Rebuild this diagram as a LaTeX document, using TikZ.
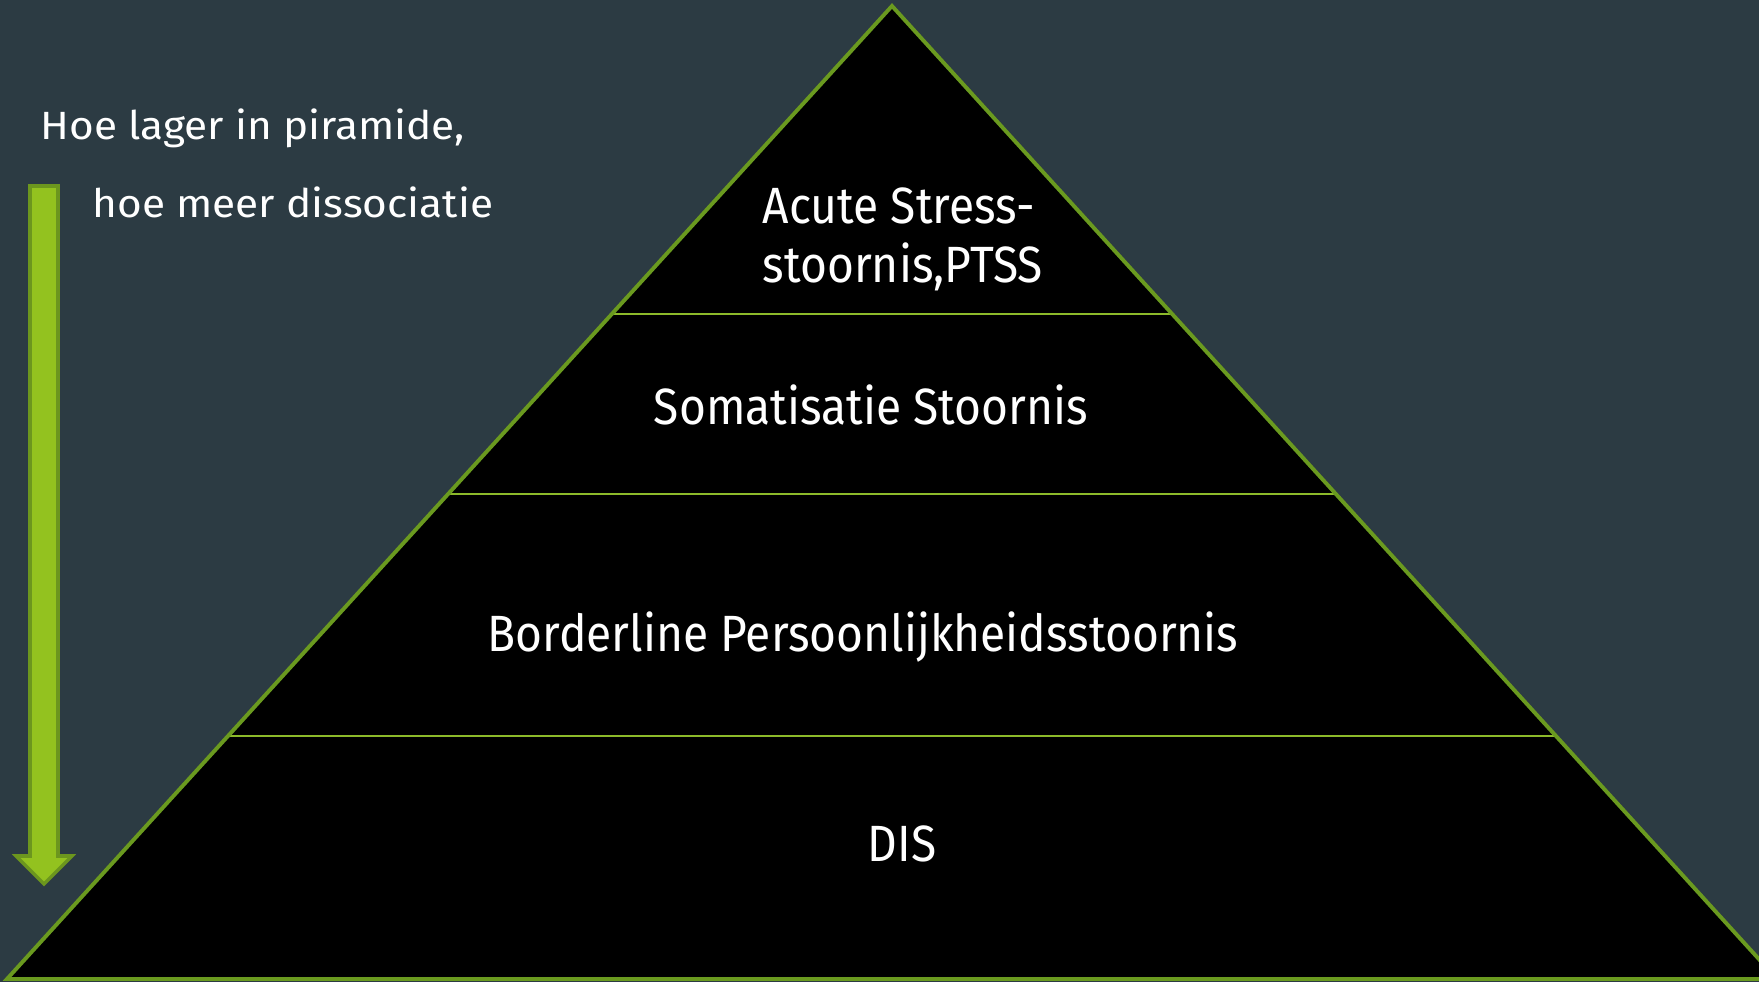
\documentclass[tikz,border=0pt]{standalone}
\usepackage{fontspec}
\setmainfont[FakeStretch=1.075]{Fira Sans}
\newfontfamily\pyrfont[FakeStretch=0.905]{Fira Sans}
\definecolor{bg}{HTML}{2C3B43}
\definecolor{edgegreen}{HTML}{6A9A1F}
\definecolor{sepgreen}{HTML}{8CB92A}
\definecolor{arrowfill}{HTML}{93C21F}
\definecolor{arrowedge}{HTML}{6C961E}
\tikzset{
  sideline/.style={draw=edgegreen, line width=1.1pt, line join=miter},
  sepline/.style={draw=sepgreen, line width=0.65pt},
  pyrtext/.style={text=white, font=\pyrfont\fontsize{14.5}{16.8}\selectfont, inner sep=0pt},
  sidetext/.style={text=white, font=\fontsize{11.2}{13}\selectfont, inner sep=0pt, anchor=base west},
}
\begin{document}
\begin{tikzpicture}[x=0.01cm,y=-0.01cm]
\fill[bg] (0,0) rectangle (1759,982);
\useasboundingbox (0,0) rectangle (1759,982);
\clip (0,0) rectangle (1759,982);
% pyramid
\coordinate (apex) at (892,6);
\coordinate (bl) at (7,979);
\coordinate (br) at (1777,979);
\fill[black] (apex) -- (br) -- (bl) -- cycle;
% separators
\foreach \yy/\nm in {314/a,494/b,736/c}{
  \pgfmathsetmacro{\dx}{0.909558*(\yy-6)}
  \coordinate (l\nm) at ({892-\dx},\yy);
  \coordinate (r\nm) at ({892+\dx},\yy);
}
\draw[sepline] (la) -- (ra);
\draw[sepline] (lb) -- (rb);
\draw[sepline] (lc) -- (rc);
\draw[sideline] (br) -- (apex) -- (bl) -- cycle;
% texts in pyramid
\node[pyrtext, align=left, anchor=west] (t1) at (762,239) {Acute Stress-\\stoornis,PTSS};
\node[pyrtext] (t2) at (871,405) {Somatisatie Stoornis};
\node[pyrtext] (t3) at (863,637) {Borderline Persoonlijkheidsstoornis};
\node[pyrtext] (t4) at (902,844) {DIS};
% left texts
\node[sidetext] (s1) at (40,140) {Hoe lager in piramide,};
\node[sidetext] (s2) at (92,218) {hoe meer dissociatie};
% arrow
\coordinate (a1) at (30,186);
\coordinate (a2) at (58,186);
\coordinate (a3) at (58,856);
\coordinate (a4) at (72,856);
\coordinate (a5) at (44,884);
\coordinate (a6) at (16,856);
\coordinate (a7) at (30,856);
\filldraw[fill=arrowfill, draw=arrowedge, line width=1pt, line join=miter]
  (a1) -- (a2) -- (a3) -- (a4) -- (a5) -- (a6) -- (a7) -- cycle;
\end{tikzpicture}
\end{document}
